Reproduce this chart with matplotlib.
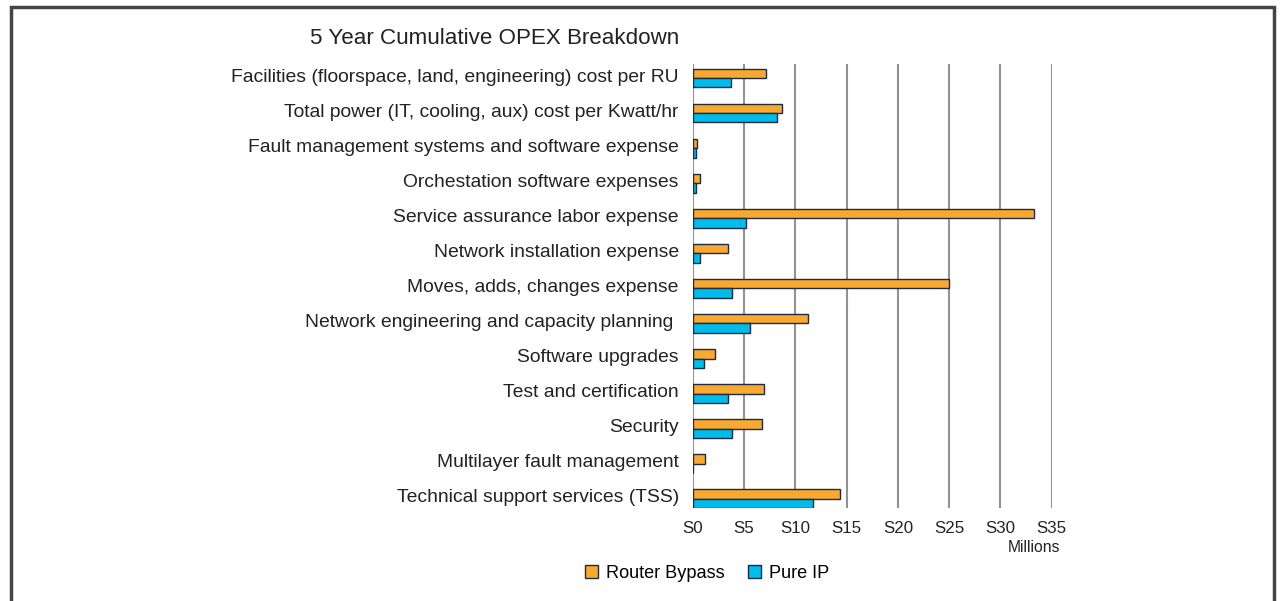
import matplotlib.pyplot as plt
import numpy as np
import matplotlib.transforms as mtransforms
from matplotlib.patches import Rectangle, Patch

plt.rcParams['font.family'] = ['Liberation Sans', 'DejaVu Sans']

categories = [
    "Facilities (floorspace, land, engineering) cost per RU",
    "Total power (IT, cooling, aux) cost per Kwatt/hr",
    "Fault management systems and software expense",
    "Orchestation software expenses",
    "Service assurance labor expense",
    "Network installation expense",
    "Moves, adds, changes expense",
    "Network engineering and capacity planning ",
    "Software upgrades",
    "Test and certification",
    "Security",
    "Multilayer fault management",
    "Technical support services (TSS)",
]
router_bypass = [7.1, 8.7, 0.45, 0.7, 33.3, 3.4, 25.0, 11.2, 2.2, 6.9, 6.8, 1.2, 14.4]
pure_ip = [3.7, 8.25, 0.3, 0.3, 5.2, 0.7, 3.85, 5.55, 1.05, 3.4, 3.8, 0.0, 11.75]
xticks = [0, 5, 10, 15, 20, 25, 30, 35]
xticklabels = ["S0", "S5", "S10", "S15", "S20", "S25", "S30", "S35"]

orange = "#F9A830"
blue = "#00BCEB"
edge = "#1E2B45"
txt = "#222222"

fig = plt.figure(figsize=(12.8, 6.01), dpi=100)
ax = fig.add_axes([0.5412, 0.1547, 0.2805, 0.7388])

y = np.arange(len(categories))
h = 0.26
ax.barh(y - h / 2, router_bypass, height=h, color=orange, edgecolor=edge, linewidth=1, zorder=3)
ax.barh(y + h / 2, pure_ip, height=h, color=blue, edgecolor=edge, linewidth=1, zorder=3)

ax.set_xlim(0, 35)
ax.set_ylim(12.27, -0.41)
ax.set_xticks(xticks)
ax.set_xticklabels(xticklabels, fontsize=12.2, color=txt)
ax.set_yticks(y)
ax.set_yticklabels(categories, fontsize=13.9, color=txt)
ax.tick_params(axis="both", length=0)
ax.tick_params(axis="y", pad=10)
ax.tick_params(axis="x", pad=9)
ax.grid(axis="x", color="#929292", linewidth=1.5, zorder=0)
for s in ax.spines.values():
    s.set_visible(False)

# category labels sit a little above the bar pair centre
shift = mtransforms.ScaledTranslation(0, 3 / 100, fig.dpi_scale_trans)
for lab in ax.get_yticklabels():
    lab.set_transform(lab.get_transform() + shift)

fig.text(310 / 1280, 1 - 38 / 601, "5 Year Cumulative OPEX Breakdown", fontsize=16.1,
         color=txt, va="center", ha="left")
fig.text(1060 / 1280, 1 - 548 / 601, "Millions", fontsize=11.3, color=txt,
         va="center", ha="right")

handles = [Patch(facecolor=orange, edgecolor=edge, label="Router Bypass"),
           Patch(facecolor=blue, edgecolor=edge, label="Pure IP")]
fig.legend(handles=handles, loc="center", bbox_to_anchor=(707 / 1280, 1 - 573 / 601),
           ncol=2, frameon=False, fontsize=13.1, handlelength=0.7, handleheight=0.7,
           handletextpad=0.45, columnspacing=1.3)

fig.patches.append(Rectangle((11 / 1280, -0.05), 1263 / 1280, 1.05 - 7 / 601,
                             transform=fig.transFigure, fill=False,
                             edgecolor="#454545", linewidth=2.5))

fig.savefig("out.png", dpi=100)
